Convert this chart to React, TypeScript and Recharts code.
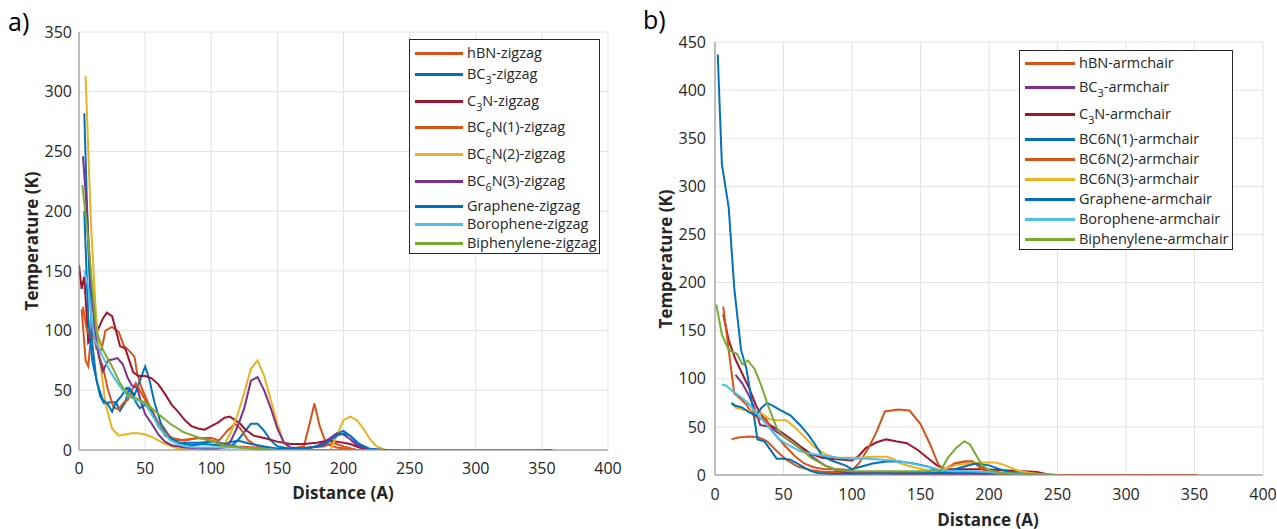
import { LineChart, Line, XAxis, YAxis, CartesianGrid } from "recharts";

type Pt = [number, number];

const distanceTicks = [0, 50, 100, 150, 200, 250, 300, 350, 400];
const zigzagTempTicks = [0, 50, 100, 150, 200, 250, 300, 350];
const armchairTempTicks = [0, 50, 100, 150, 200, 250, 300, 350, 400, 450];

const ORANGE = "#D95319";
const BLUE = "#0072BD";
const DARKRED = "#A2142F";
const YELLOW = "#EDB120";
const PURPLE = "#7E2F8E";
const LIGHTBLUE = "#4DBEEE";
const GREEN = "#77AC30";

// ---- a) zigzag, [distance, temperature]
const hbnZigzag: Pt[] = [[2, 118], [5, 75], [7, 70], [10, 107], [13, 85], [17, 84], [20, 100], [25, 103], [30, 99], [34, 87], [38, 83], [42, 78], [44, 64], [47, 53], [52, 40], [58, 27], [65, 12], [75, 8], [90, 10], [100, 8], [110, 5], [120, 3], [135, 2], [150, 1], [160, 1], [170, 3], [175, 25], [178, 39], [182, 20], [187, 5], [195, 2], [210, 0], [230, 0]];
const bc3Zigzag: Pt[] = [[4, 282], [7, 170], [10, 90], [13, 60], [16, 45], [19, 39], [24, 40], [28, 40], [31, 33], [35, 40], [38, 52], [42, 46], [46, 58], [50, 70], [53, 60], [57, 40], [62, 22], [68, 12], [75, 6], [85, 4], [95, 5], [105, 4], [115, 3], [120, 8], [125, 15], [130, 22], [135, 22], [140, 16], [145, 8], [150, 3], [160, 1], [175, 2], [185, 5], [195, 14], [200, 16], [205, 12], [210, 6], [215, 2], [222, 0], [240, 0]];
const c3nZigzag: Pt[] = [[0, 155], [2, 135], [4, 145], [7, 90], [10, 95], [14, 100], [18, 110], [21, 115], [25, 112], [28, 100], [31, 87], [35, 85], [38, 75], [41, 65], [45, 62], [50, 62], [55, 60], [60, 55], [65, 47], [70, 38], [75, 32], [80, 25], [85, 20], [90, 18], [95, 17], [100, 20], [105, 23], [110, 27], [114, 28], [118, 25], [122, 22], [126, 17], [132, 12], [140, 10], [150, 7], [160, 5], [170, 5], [180, 6], [188, 8], [195, 7], [205, 5], [212, 2], [220, 0], [358, 0]];
const bc6n1Zigzag: Pt[] = [[3, 120], [6, 100], [9, 95], [12, 92], [15, 80], [18, 70], [22, 50], [26, 36], [30, 34], [34, 40], [37, 42], [40, 50], [43, 56], [46, 50], [50, 42], [55, 30], [60, 22], [65, 15], [70, 10], [80, 8], [90, 10], [100, 10], [106, 8], [112, 16], [118, 22], [122, 18], [128, 8], [135, 3], [140, 1], [150, 0], [185, 3], [192, 6], [200, 3], [210, 0], [351, 0]];
const bc6n2Zigzag: Pt[] = [[5, 313], [9, 190], [13, 110], [17, 65], [20, 39], [25, 18], [30, 12], [35, 13], [40, 14], [45, 14], [50, 13], [55, 11], [60, 8], [65, 5], [70, 3], [75, 1], [90, 0], [105, 0], [110, 5], [115, 15], [120, 30], [125, 48], [130, 68], [135, 75], [140, 62], [145, 42], [150, 22], [155, 6], [160, 1], [170, 0], [190, 0], [195, 12], [200, 25], [205, 28], [210, 25], [215, 18], [220, 9], [225, 3], [232, 0], [240, 0]];
const bc6n3Zigzag: Pt[] = [[3, 246], [6, 200], [9, 140], [12, 100], [15, 78], [18, 66], [22, 75], [26, 76], [29, 77], [33, 72], [37, 60], [40, 54], [44, 52], [47, 40], [50, 30], [55, 22], [60, 13], [65, 7], [70, 4], [80, 2], [100, 1], [110, 2], [115, 8], [120, 20], [125, 35], [130, 58], [135, 61], [140, 50], [145, 35], [150, 18], [155, 6], [160, 2], [170, 1], [180, 3], [190, 10], [195, 14], [200, 13], [205, 9], [210, 4], [218, 1], [230, 0], [240, 0]];
const grapheneZigzag: Pt[] = [[4, 200], [7, 110], [10, 75], [14, 55], [18, 42], [22, 38], [25, 32], [28, 40], [32, 45], [36, 52], [40, 48], [43, 40], [46, 35], [50, 38], [55, 32], [60, 20], [66, 12], [75, 6], [90, 6], [100, 7], [110, 5], [120, 8], [130, 5], [140, 3], [150, 1], [170, 1], [185, 4], [195, 12], [200, 14], [205, 12], [212, 5], [220, 1], [230, 0], [240, 0]];
const boropheneZigzag: Pt[] = [[4, 150], [7, 137], [10, 105], [12, 92], [15, 85], [18, 78], [23, 67], [27, 60], [31, 53], [37, 45], [43, 42], [50, 39], [56, 28], [62, 17], [69, 8], [75, 5], [81, 3], [90, 2], [100, 2], [120, 2], [140, 1], [150, 0], [230, 0]];
const biphenyleneZigzag: Pt[] = [[2.5, 222], [6, 187], [10, 137], [13, 100], [18, 84], [25, 70], [31, 56], [37, 46], [44, 43], [51, 39], [59, 31], [69, 22], [79, 15], [89, 11], [99, 8], [109, 4], [120, 2], [135, 1], [150, 0], [230, 0]];

// ---- b) armchair, [distance, temperature]
const hbnArmchair: Pt[] = [[12, 37], [17, 39], [25, 40], [32, 39], [38, 35], [45, 25], [52, 16], [60, 9], [70, 5], [80, 3], [100, 3], [120, 3], [140, 2], [160, 2], [170, 8], [175, 12], [182, 14], [188, 14], [195, 8], [200, 4], [210, 1], [220, 0], [250, 0]];
const bc3Armchair: Pt[] = [[15, 104], [20, 95], [25, 82], [30, 65], [33, 52], [40, 50], [50, 40], [60, 30], [70, 20], [80, 10], [90, 4], [100, 2], [120, 2], [130, 1], [150, 1], [200, 1], [250, 0]];
const c3nArmchair: Pt[] = [[6, 167], [10, 140], [15, 120], [20, 105], [25, 90], [30, 72], [35, 60], [40, 52], [47, 46], [55, 38], [62, 30], [70, 22], [78, 18], [85, 17], [92, 16], [100, 15], [105, 20], [110, 28], [118, 34], [125, 37], [132, 35], [140, 33], [148, 26], [155, 18], [162, 10], [168, 6], [175, 6], [185, 6], [195, 6], [210, 5], [225, 4], [235, 3], [245, 0], [250, 0]];
const bc6n1Armchair: Pt[] = [[2, 437], [5, 323], [10, 278], [14, 195], [19, 130], [23, 110], [27, 75], [31, 37], [36, 35], [41, 25], [45, 17], [50, 17], [55, 16], [60, 12], [65, 8], [70, 4], [75, 2], [85, 1], [100, 1], [150, 2], [200, 2], [250, 0]];
const bc6n2Armchair: Pt[] = [[6, 175], [10, 130], [14, 85], [18, 80], [23, 73], [28, 62], [33, 58], [37, 59], [42, 45], [50, 32], [58, 20], [65, 12], [72, 8], [80, 6], [90, 6], [100, 5], [105, 12], [112, 28], [118, 45], [124, 66], [134, 68], [142, 67], [150, 53], [157, 32], [163, 11], [168, 5], [175, 12], [182, 14], [188, 14], [195, 6], [205, 2], [215, 0], [352, 0]];
const bc6n3Armchair: Pt[] = [[12, 74], [15, 70], [20, 68], [25, 67], [30, 67], [35, 63], [40, 58], [45, 57], [52, 57], [58, 50], [65, 40], [72, 30], [80, 22], [88, 18], [95, 18], [105, 18], [115, 19], [125, 19], [130, 17], [135, 12], [145, 8], [155, 5], [165, 5], [175, 10], [185, 12], [195, 13], [205, 13], [212, 10], [220, 5], [230, 2], [245, 0], [250, 0]];
const grapheneArmchair: Pt[] = [[12, 75], [15, 72], [20, 70], [25, 65], [30, 62], [34, 70], [38, 75], [42, 72], [47, 68], [55, 62], [62, 52], [68, 42], [73, 32], [78, 20], [85, 15], [95, 10], [100, 6], [105, 8], [115, 12], [125, 14], [135, 14], [145, 12], [155, 9], [162, 5], [170, 4], [180, 8], [190, 12], [200, 10], [210, 5], [220, 2], [235, 0], [250, 0]];
const boropheneArmchair: Pt[] = [[5, 94], [8, 93], [12, 88], [18, 82], [24, 75], [30, 65], [36, 55], [42, 45], [48, 36], [55, 30], [62, 25], [70, 22], [80, 20], [90, 18], [100, 17], [110, 17], [120, 16], [130, 15], [140, 13], [150, 10], [160, 7], [165, 5], [175, 4], [185, 4], [200, 3], [220, 1], [250, 0]];
const biphenyleneArmchair: Pt[] = [[1, 177], [5, 146], [10, 130], [16, 126], [20, 115], [24, 119], [29, 110], [34, 92], [38, 75], [45, 49], [50, 40], [55, 36], [62, 28], [70, 18], [80, 10], [90, 5], [100, 4], [120, 4], [140, 4], [155, 4], [165, 5], [170, 18], [176, 28], [182, 35], [186, 32], [190, 22], [195, 10], [200, 5], [210, 2], [230, 1], [250, 0]];

type Series = { pre: string; sub?: string; post: string; color: string; points: Pt[] };

const zigzagSeries: Series[] = [
  { pre: "hBN", post: "-zigzag", color: ORANGE, points: hbnZigzag },
  { pre: "BC", sub: "3", post: "-zigzag", color: BLUE, points: bc3Zigzag },
  { pre: "C", sub: "3", post: "N-zigzag", color: DARKRED, points: c3nZigzag },
  { pre: "BC", sub: "6", post: "N(1)-zigzag", color: ORANGE, points: bc6n1Zigzag },
  { pre: "BC", sub: "6", post: "N(2)-zigzag", color: YELLOW, points: bc6n2Zigzag },
  { pre: "BC", sub: "6", post: "N(3)-zigzag", color: PURPLE, points: bc6n3Zigzag },
  { pre: "Graphene", post: "-zigzag", color: BLUE, points: grapheneZigzag },
  { pre: "Borophene", post: "-zigzag", color: LIGHTBLUE, points: boropheneZigzag },
  { pre: "Biphenylene", post: "-zigzag", color: GREEN, points: biphenyleneZigzag },
];

const armchairSeries: Series[] = [
  { pre: "hBN", post: "-armchair", color: ORANGE, points: hbnArmchair },
  { pre: "BC", sub: "3", post: "-armchair", color: PURPLE, points: bc3Armchair },
  { pre: "C", sub: "3", post: "N-armchair", color: DARKRED, points: c3nArmchair },
  { pre: "BC6N(1)", post: "-armchair", color: BLUE, points: bc6n1Armchair },
  { pre: "BC6N(2)", post: "-armchair", color: ORANGE, points: bc6n2Armchair },
  { pre: "BC6N(3)", post: "-armchair", color: YELLOW, points: bc6n3Armchair },
  { pre: "Graphene", post: "-armchair", color: BLUE, points: grapheneArmchair },
  { pre: "Borophene", post: "-armchair", color: LIGHTBLUE, points: boropheneArmchair },
  { pre: "Biphenylene", post: "-armchair", color: GREEN, points: biphenyleneArmchair },
];

const FONT = "'Open Sans', 'Noto Sans', sans-serif";
const tickStyle = { fontFamily: FONT, fontSize: 16, fill: "#262626" };

const toRows = (pts: Pt[]) => pts.map(([d, t]) => ({ d, t }));

function SeriesName({ s }: { s: Series }) {
  return (
    <span>
      {s.pre}
      {s.sub && (
        <sub style={{ fontSize: "0.75em", lineHeight: 0, verticalAlign: "-0.45em" }}>{s.sub}</sub>
      )}
      {s.post}
    </span>
  );
}

function LegendBox(props: {
  series: Series[];
  left: number;
  top: number;
  width: number;
  height: number;
  rows: number[];
  lineLen: number;
  textLeft: number;
}) {
  const { series, left, top, width, height, rows, lineLen, textLeft } = props;
  return (
    <div
      style={{
        position: "absolute",
        left,
        top,
        width,
        height,
        border: "1px solid #262626",
        background: "#fff",
        boxSizing: "border-box",
      }}
    >
      {series.map((s, i) => (
        <div key={i} style={{ position: "absolute", left: 0, top: Math.round(rows[i]), width: "100%" }}>
          <div style={{ position: "absolute", left: 5, top: -1, width: lineLen, height: 3, background: s.color }} />
          <div
            style={{
              position: "absolute",
              left: textLeft,
              top: 0,
              transform: "translateY(-50%)",
              fontFamily: FONT,
              fontSize: 14.5,
              color: "#262626",
              whiteSpace: "nowrap",
              lineHeight: 1,
            }}
          >
            <SeriesName s={s} />
          </div>
        </div>
      ))}
    </div>
  );
}

function Panel(props: {
  series: Series[];
  left: number;
  width: number;
  margin: { top: number; right: number; bottom: number; left: number };
  yWidth: number;
  yMax: number;
  yTicks: number[];
  xTickGap: number;
  yTickGap: number;
}) {
  const { series, left, width, margin, yWidth, yMax, yTicks, xTickGap, yTickGap } = props;
  return (
    <div style={{ position: "absolute", left, top: 0 }}>
      <LineChart width={width} height={529} margin={margin}>
        <CartesianGrid stroke="#e2e2e2" strokeWidth={1} />
        <XAxis
          dataKey="d"
          type="number"
          domain={[0, 400]}
          ticks={distanceTicks}
          tick={tickStyle}
          tickLine={false}
          tickSize={0}
          tickMargin={xTickGap}
          height={30}
          stroke="#8a8a8a"
          allowDataOverflow
        />
        <YAxis
          type="number"
          domain={[0, yMax]}
          ticks={yTicks}
          tick={tickStyle}
          tickLine={false}
          tickSize={0}
          tickMargin={yTickGap}
          width={yWidth}
          stroke="#8a8a8a"
          allowDataOverflow
        />
        {series.map((s, i) => (
          <Line
            key={i}
            data={toRows(s.points)}
            dataKey="t"
            type="linear"
            stroke={s.color}
            strokeWidth={2}
            dot={false}
            activeDot={false}
            isAnimationActive={false}
            name={s.pre + (s.sub ?? "") + s.post}
          />
        ))}
      </LineChart>
    </div>
  );
}

const titleStyle = {
  position: "absolute" as const,
  fontFamily: FONT,
  fontWeight: 700,
  fontSize: 17,
  color: "#262626",
  whiteSpace: "nowrap" as const,
  lineHeight: 1,
};

export default function App() {
  return (
    <div style={{ position: "absolute", left: 0, top: 0, width: 1277, height: 529, background: "#fff", overflow: "hidden" }}>
      <Panel
        series={zigzagSeries}
        left={0}
        width={640}
        margin={{ top: 32, right: 32, bottom: 49, left: 0 }}
        yWidth={79}
        yMax={350}
        yTicks={zigzagTempTicks}
        xTickGap={13}
        yTickGap={7}
      />
      <Panel
        series={armchairSeries}
        left={640}
        width={637}
        margin={{ top: 42, right: 14, bottom: 24, left: 0 }}
        yWidth={75}
        yMax={450}
        yTicks={armchairTempTicks}
        xTickGap={14}
        yTickGap={9}
      />

      <LegendBox series={zigzagSeries} left={409} top={39} width={191} height={215}
        rows={[12.5, 34, 61, 87, 114, 141, 166, 184, 203]} lineLen={48} textLeft={57} />
      <LegendBox series={armchairSeries} left={1019} top={50} width={214} height={200}
        rows={[12, 35.5, 63, 87.5, 107.5, 127.5, 147.5, 168, 187.5]} lineLen={50} textLeft={59} />

      <div style={{ ...titleStyle, left: 343, top: 492, transform: "translate(-50%, -50%)" }}>Distance (A)</div>
      <div style={{ ...titleStyle, left: 988, top: 519, transform: "translate(-50%, -50%)" }}>Distance (A)</div>
      <div style={{ ...titleStyle, left: 31, top: 241, transform: "translate(-50%, -50%) rotate(-90deg)" }}>Temperature (K)</div>
      <div style={{ ...titleStyle, left: 665, top: 259, transform: "translate(-50%, -50%) rotate(-90deg)" }}>Temperature (K)</div>

      <div style={{ position: "absolute", left: 8, top: 9, fontFamily: FONT, fontSize: 25, color: "#000", lineHeight: 1 }}>a)</div>
      <div style={{ position: "absolute", left: 643, top: 7, fontFamily: FONT, fontSize: 25, color: "#000", lineHeight: 1 }}>b)</div>
    </div>
  );
}
